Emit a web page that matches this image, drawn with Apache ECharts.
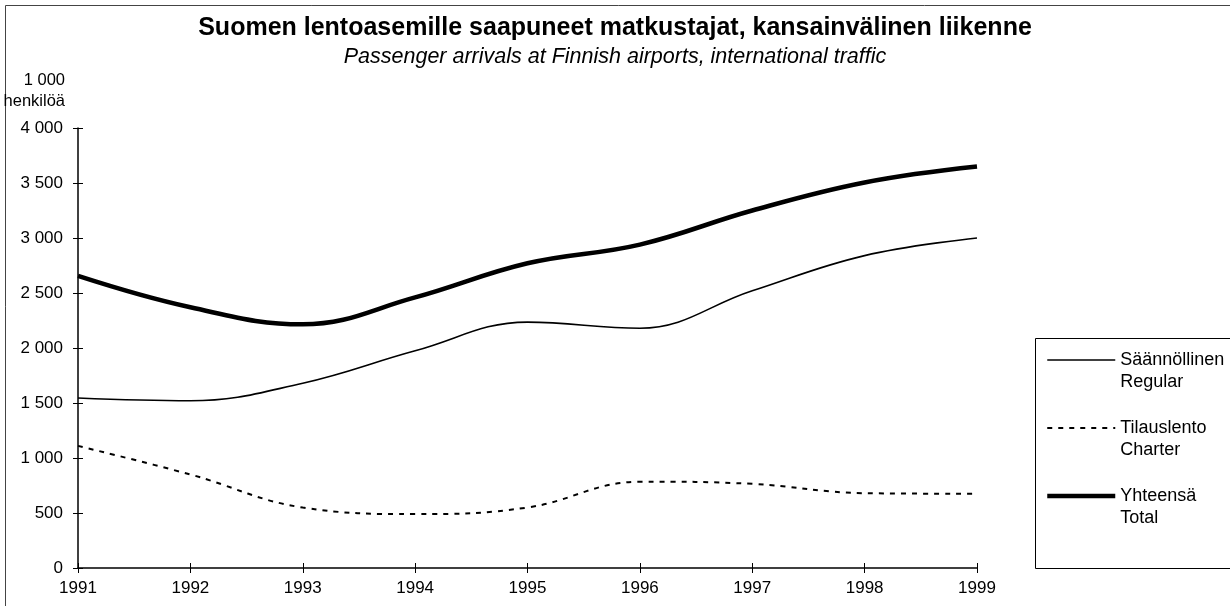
<!DOCTYPE html>
<html>
<head>
<meta charset="utf-8">
<script src="https://cdn.jsdelivr.net/npm/echarts@6/dist/echarts.min.js"></script>
<style>
  html, body { margin: 0; padding: 0; background: #fff; }
  #chart { width: 1230px; height: 606px; }
</style>
</head>
<body>
<div id="chart"></div>
<script>
const years = ['1991', '1992', '1993', '1994', '1995', '1996', '1997', '1998', '1999']
// 1 000 henkilöä
const regular = [1545, 1520, 1680, 1975, 2235, 2180, 2520, 2840, 3000]
const charter = [1110, 850, 550, 490, 550, 785, 765, 680, 675]
const total = [2655, 2370, 2215, 2460, 2770, 2940, 3250, 3505, 3650]
const seriesNames = ['Säännöllinen\nRegular', 'Tilauslento\nCharter', 'Yhteensä\nTotal']

const font = "'Liberation Sans', Arial, sans-serif"

const fmt = (v) => String(v).replace(/\B(?=(\d{3})+(?!\d))/g, ' ')

const lineStyles = [
  { color: '#000', width: 1.6 },
  { color: '#000', width: 2, type: [5, 6] },
  { color: '#000', width: 4.5 },
]

const chart = echarts.init(document.getElementById('chart'))

const yBase = { type: 'value', min: 0, max: 4000, interval: 500 }

chart.setOption({
  backgroundColor: '#fff',
  animation: false,
  textStyle: { fontFamily: font, color: '#000' },
  title: {
    text: 'Suomen lentoasemille saapuneet matkustajat, kansainvälinen liikenne',
    subtext: 'Passenger arrivals at Finnish airports, international traffic',
    left: 'center',
    top: 11,
    itemGap: 5,
    textStyle: { fontFamily: font, fontSize: 25, fontWeight: 'bold', color: '#000' },
    subtextStyle: { fontFamily: font, fontSize: 21.5, fontStyle: 'italic', color: '#000' },
  },
  graphic: [
    {
      type: 'rect',
      silent: true,
      shape: { x: 5.5, y: 5.5, width: 1400, height: 800 },
      style: { fill: 'none', stroke: '#444', lineWidth: 1 },
    },
    {
      // legend frame
      type: 'rect',
      silent: true,
      shape: { x: 1035.5, y: 338.5, width: 300, height: 230 },
      style: { fill: 'none', stroke: '#000', lineWidth: 1 },
    },
  ],
  legend: {
    orient: 'vertical',
    left: 1045,
    top: 327,
    padding: 0,
    itemGap: 2,
    itemWidth: 68,
    itemHeight: 14,
    data: seriesNames.map((name, i) => ({ name, lineStyle: lineStyles[i] })),
    itemStyle: { opacity: 0, borderWidth: 0 },
    formatter: (name) => ' \n' + name,
    textStyle: {
      fontFamily: font,
      fontSize: 18,
      lineHeight: 22,
      color: '#000',
    },
  },
  grid: { left: 78, right: 253, top: 128, bottom: 38 },
  xAxis: [
    {
      type: 'category',
      data: years,
      boundaryGap: false,
      axisLine: { lineStyle: { color: '#000', width: 1.5 } },
      axisTick: { inside: false, length: 5, lineStyle: { color: '#000' } },
      axisLabel: { fontFamily: font, fontSize: 17, color: '#000', margin: 12 },
    },
    {
      type: 'category',
      data: years,
      boundaryGap: false,
      position: 'bottom',
      axisLine: { show: false },
      axisTick: { inside: true, length: 5, lineStyle: { color: '#000' } },
      axisLabel: { show: false },
    },
  ],
  yAxis: [
    {
      ...yBase,
      name: '1 000\nhenkilöä',
      nameLocation: 'end',
      nameGap: 16,
      nameTextStyle: {
        fontFamily: font,
        fontSize: 16.5,
        color: '#000',
        align: 'right',
        verticalAlign: 'bottom',
        lineHeight: 21,
        padding: [0, 13, 0, 0],
      },
      axisLine: { show: true, lineStyle: { color: '#000', width: 1.5 } },
      axisTick: { show: true, inside: false, length: 5, lineStyle: { color: '#000' } },
      axisLabel: { fontFamily: font, fontSize: 17, color: '#000', margin: 15, formatter: fmt },
      splitLine: { show: false },
    },
    {
      ...yBase,
      position: 'left',
      axisLine: { show: false },
      axisTick: { show: true, inside: true, length: 5, lineStyle: { color: '#000' } },
      axisLabel: { show: false },
      splitLine: { show: false },
    },
  ],
  series: [
    {
      name: seriesNames[0],
      type: 'line',
      data: regular,
      smooth: 0.4,
      symbol: 'none',
      lineStyle: lineStyles[0],
      itemStyle: { color: '#000' },
    },
    {
      name: seriesNames[1],
      type: 'line',
      data: charter,
      smooth: 0.4,
      symbol: 'none',
      lineStyle: lineStyles[1],
      itemStyle: { color: '#000' },
    },
    {
      name: seriesNames[2],
      type: 'line',
      data: total,
      smooth: 0.4,
      symbol: 'none',
      lineStyle: lineStyles[2],
      itemStyle: { color: '#000' },
    },
  ],
})
</script>
</body>
</html>
